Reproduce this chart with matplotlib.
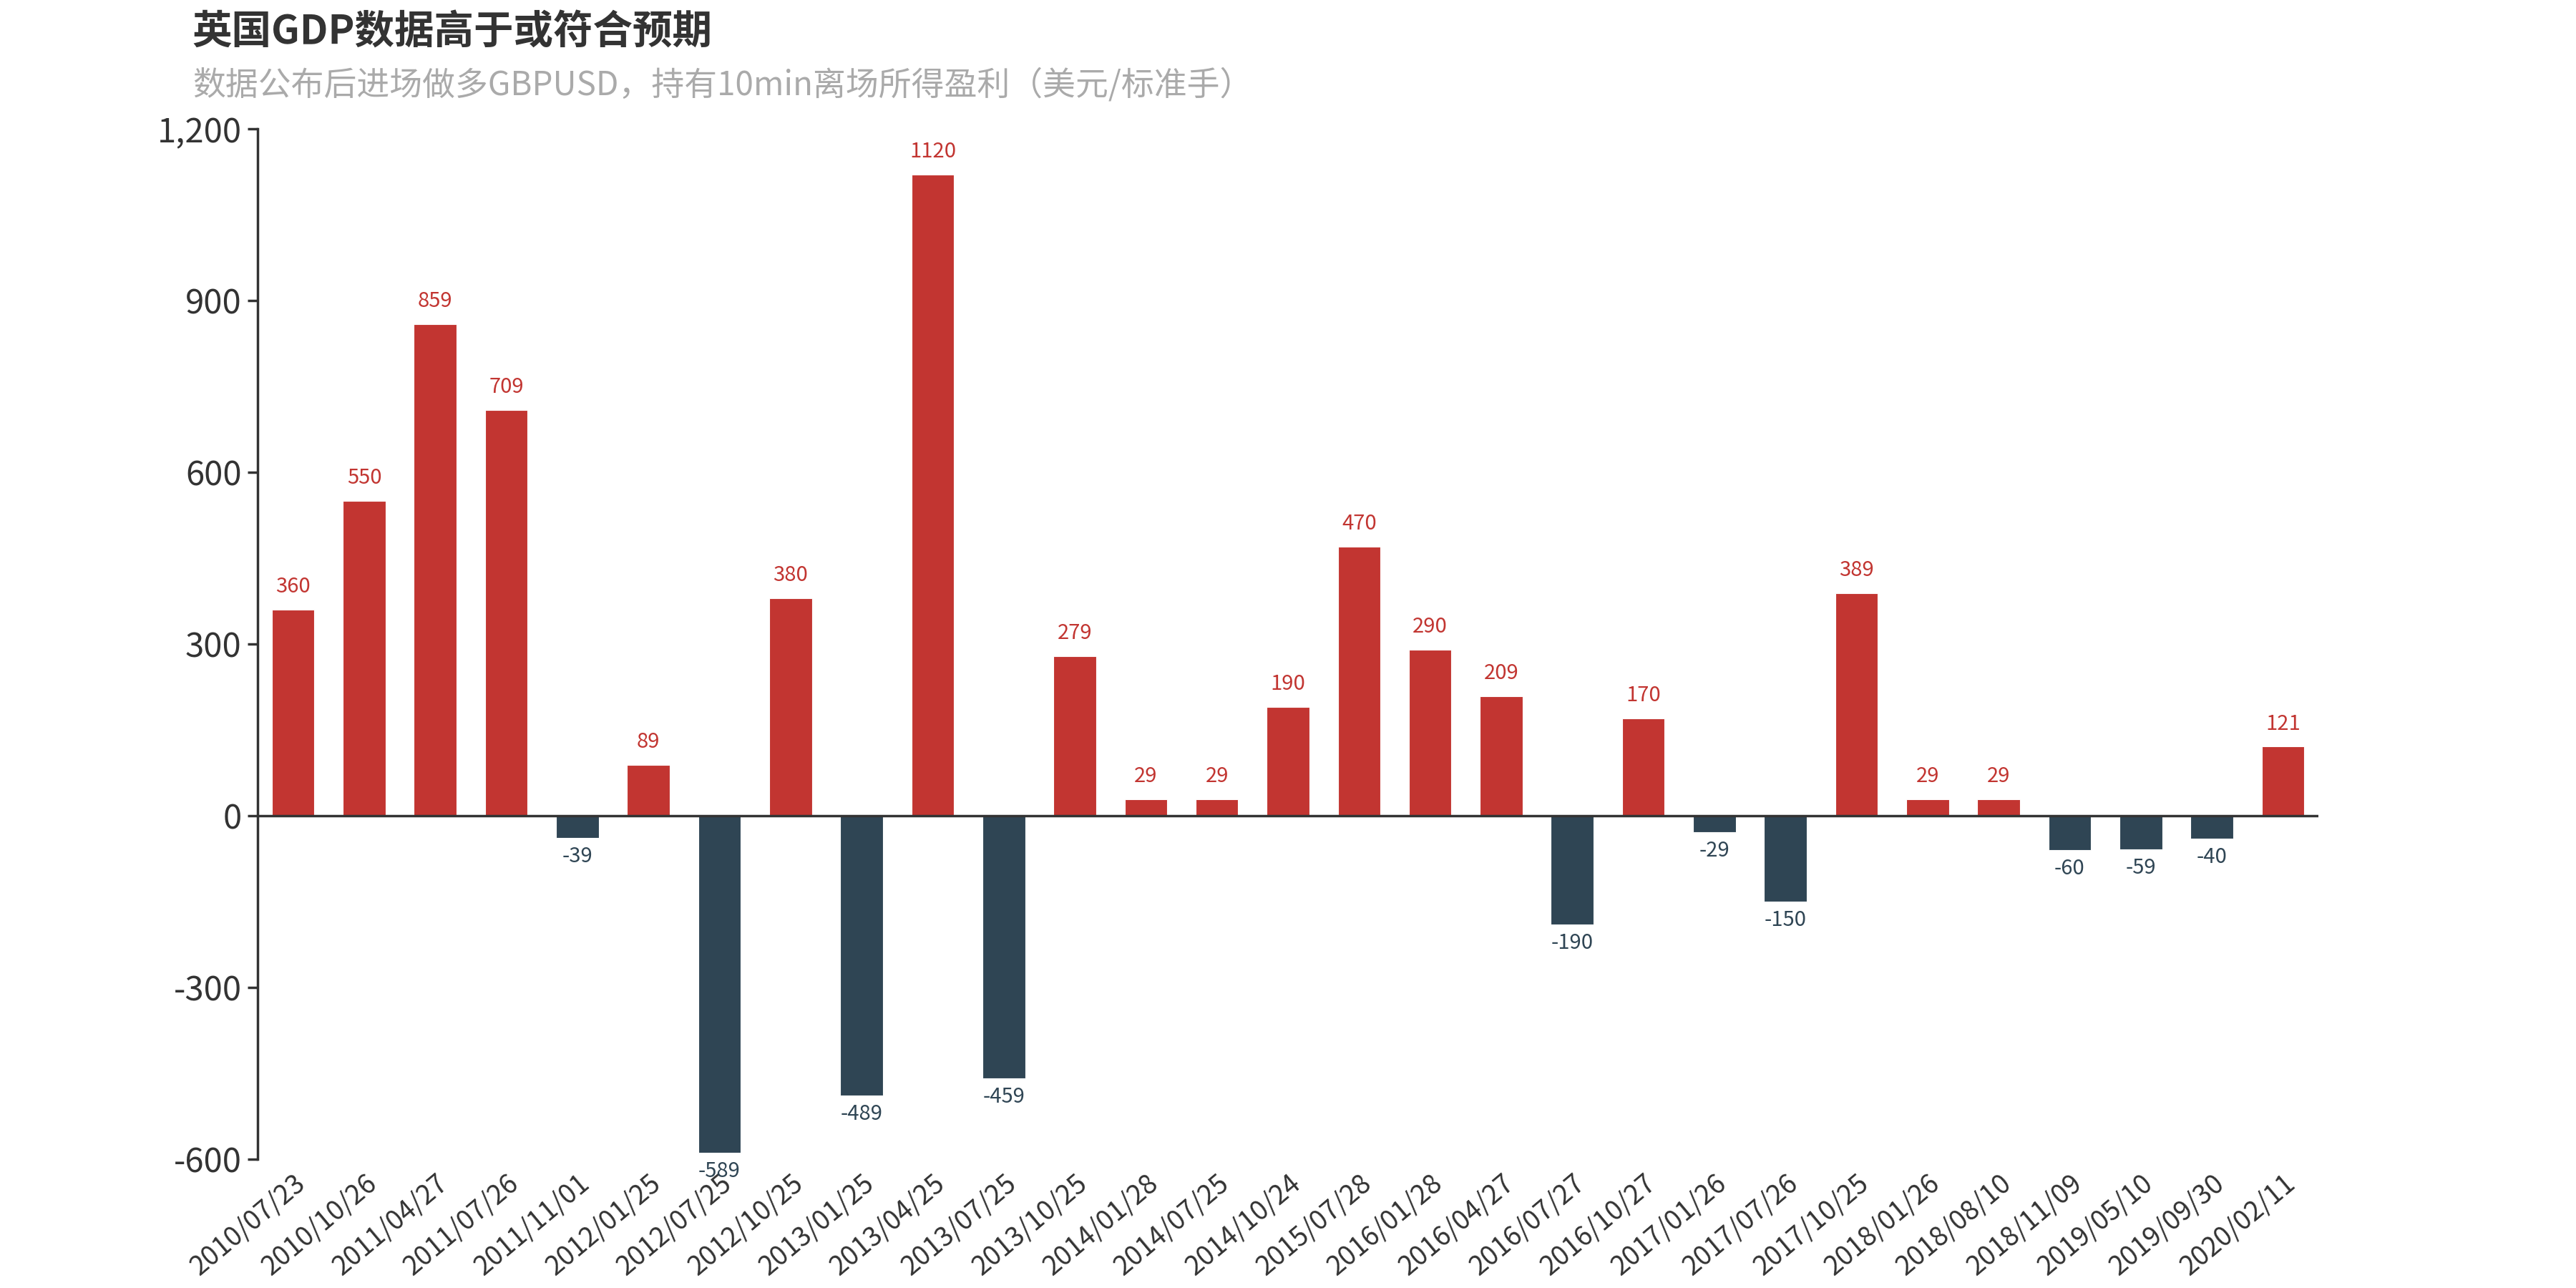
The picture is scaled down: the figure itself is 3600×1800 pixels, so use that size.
import matplotlib
matplotlib.use("Agg")
import matplotlib.pyplot as plt
from matplotlib.ticker import FuncFormatter

plt.rcParams["font.family"] = ["Noto Sans CJK SC", "DejaVu Sans"]

dates = [
    "2010/07/23", "2010/10/26", "2011/04/27", "2011/07/26", "2011/11/01",
    "2012/01/25", "2012/07/25", "2012/10/25", "2013/01/25", "2013/04/25",
    "2013/07/25", "2013/10/25", "2014/01/28", "2014/07/25", "2014/10/24",
    "2015/07/28", "2016/01/28", "2016/04/27", "2016/07/27", "2016/10/27",
    "2017/01/26", "2017/07/26", "2017/10/25", "2018/01/26", "2018/08/10",
    "2018/11/09", "2019/05/10", "2019/09/30", "2020/02/11",
]
profit = [
    360, 550, 859, 709, -39, 89, -589, 380, -489, 1120,
    -459, 279, 29, 29, 190, 470, 290, 209, -190, 170,
    -29, -150, 389, 29, 29, -60, -59, -40, 121,
]

RED = "#c23531"
DARK = "#2f4554"
TXT = "#333333"

fig = plt.figure(figsize=(36, 18), dpi=100)
ax = fig.add_axes([0.1, 0.1, 0.8, 0.8])

x = range(len(dates))
colors = [RED if v >= 0 else DARK for v in profit]
ax.bar(x, profit, width=0.6, color=colors, edgecolor="white", linewidth=0.8, zorder=2)

# 数值标签
for i, v in enumerate(profit):
    if v >= 0:
        ax.annotate(str(v), (i, v), xytext=(0, 12), textcoords="offset points",
                    ha="center", va="bottom", fontsize=21, color=RED)
    else:
        ax.annotate(str(v), (i, v), xytext=(0, -8), textcoords="offset points",
                    ha="center", va="top", fontsize=21, color=DARK)

ax.axhline(0, color=TXT, linewidth=2.5, zorder=3)

ax.set_xlim(-0.5, len(dates) - 0.5)
ax.set_ylim(-600, 1200)
ax.set_yticks([-600, -300, 0, 300, 600, 900, 1200])
ax.yaxis.set_major_formatter(FuncFormatter(lambda v, p: f"{int(v):,}"))

for s in ["top", "right", "bottom"]:
    ax.spines[s].set_visible(False)
ax.spines["left"].set_color(TXT)
ax.spines["left"].set_linewidth(2.5)
ax.tick_params(axis="y", colors=TXT, labelsize=34, length=10, width=2.5, pad=6)
ax.tick_params(axis="x", length=0, pad=10)

ax.set_xticks(list(x))
ax.set_xticklabels(dates, rotation=40, ha="right", rotation_mode="anchor",
                   fontsize=27, color=TXT)

fig.text(0.0747, 0.99, "英国GDP数据高于或符合预期", fontsize=40, fontweight="bold",
         color=TXT, ha="left", va="top")
fig.text(0.0747, 0.947, "数据公布后进场做多GBPUSD，持有10min离场所得盈利（美元/标准手）",
         fontsize=33, color="#aaaaaa", ha="left", va="top")

fig.savefig("out.png", dpi=100)
